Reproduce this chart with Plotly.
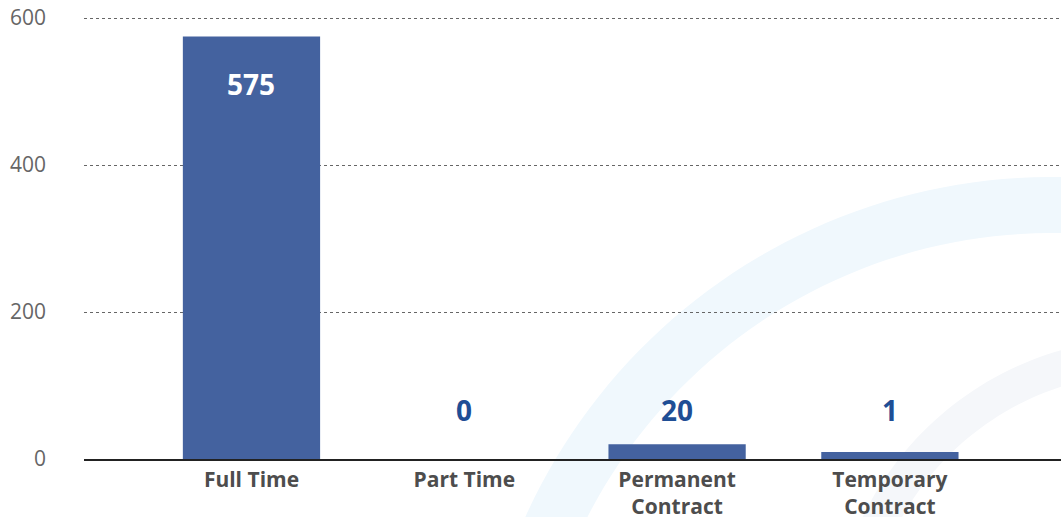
import numpy as np
import plotly.graph_objects as go

# ---- data ----
categories = ["Full Time", "Part Time", "Permanent<br>Contract", "Temporary<br>Contract"]
values = [575, 0, 20, 1]
y_tickvals = [0, 200, 400, 600]
y_ticktext = ["0", "200", "400", "600"]

# ---- style ----
W, H = 1061, 517
M_L, M_R, M_T, M_B = 84, 0, 16, 58
Y_MAX = 600
TOP_PAD_PX = 2  # keep the top gridline just inside the plot area
BAR_COLOR = "#44629f"
LABEL_BLUE = "#1f4e95"
FONT = "Open Sans"
MIN_POINT_PX = 7  # minimum visible column height (like minPointLength)

plot_h = H - M_T - M_B
plot_w = W - M_L - M_R
px_per_unit = (plot_h - TOP_PAD_PX) / Y_MAX
y_top = plot_h / px_per_unit
min_units = MIN_POINT_PX / px_per_unit
display_vals = [v if (v == 0 or v >= min_units) else min_units for v in values]

fig = go.Figure()
fig.add_trace(go.Bar(
    x=categories, y=display_vals, marker=dict(color=BAR_COLOR, line=dict(width=0)),
    width=0.645, hoverinfo="skip", showlegend=False,
))

# value labels
for cat, v in zip(categories, values):
    inside = v * px_per_unit > 100
    fig.add_annotation(
        x=cat, y=v if inside else 0, xref="x", yref="y",
        text=f"<b>{v}</b>", showarrow=False,
        yshift=-48 if inside else 49, yanchor="middle",
        font=dict(family=FONT, size=28, color="white" if inside else LABEL_BLUE),
    )

# decorative background arcs (watermark)
def to_paper(px, py):
    return (px - M_L) / plot_w, (H - M_B - py) / plot_h

def ring_path(cx, cy, r_out, r_in, n=240):
    t = np.linspace(0, 2 * np.pi, n)
    pts_o = [to_paper(cx + r_out * np.cos(a), cy + r_out * np.sin(a)) for a in t]
    pts_i = [to_paper(cx + r_in * np.cos(a), cy + r_in * np.sin(a)) for a in t[::-1]]
    s = "M " + " L ".join(f"{x:.5f},{y:.5f}" for x, y in pts_o) + " Z "
    s += "M " + " L ".join(f"{x:.5f},{y:.5f}" for x, y in pts_i) + " Z"
    return s

shapes = [
    dict(type="path", xref="paper", yref="paper", layer="below",
         path=ring_path(1052, 755, 578, 522), fillcolor="#f0f8fd", line=dict(width=0)),
    dict(type="path", xref="paper", yref="paper", layer="below",
         path=ring_path(1148, 655, 317, 282), fillcolor="#f5f7fa", line=dict(width=0)),
]

fig.update_layout(
    width=W, height=H,
    margin=dict(l=M_L, r=M_R, t=M_T, b=M_B, pad=0),
    paper_bgcolor="white", plot_bgcolor="rgba(0,0,0,0)",
    shapes=shapes,
    bargap=0.35,
    xaxis=dict(
        type="category", range=[-0.787, 3.804], automargin=False,
        showline=True, linecolor="#222", linewidth=1.5,
        showgrid=False, ticks="", ticklabelstandoff=1,
        tickfont=dict(family=FONT, size=21, color="#4d4d4d", weight="bold"),
        fixedrange=True,
    ),
    yaxis=dict(
        range=[0, y_top], tickvals=y_tickvals, ticktext=y_ticktext, automargin=False,
        showgrid=True, gridcolor="#666666", gridwidth=1, griddash="dot",
        zeroline=False, showline=False, ticks="", ticklabelstandoff=37,
        tickfont=dict(family=FONT, size=21, color="#666666"),
        fixedrange=True,
    ),
    font=dict(family=FONT),
)

fig.write_html("out.html")
